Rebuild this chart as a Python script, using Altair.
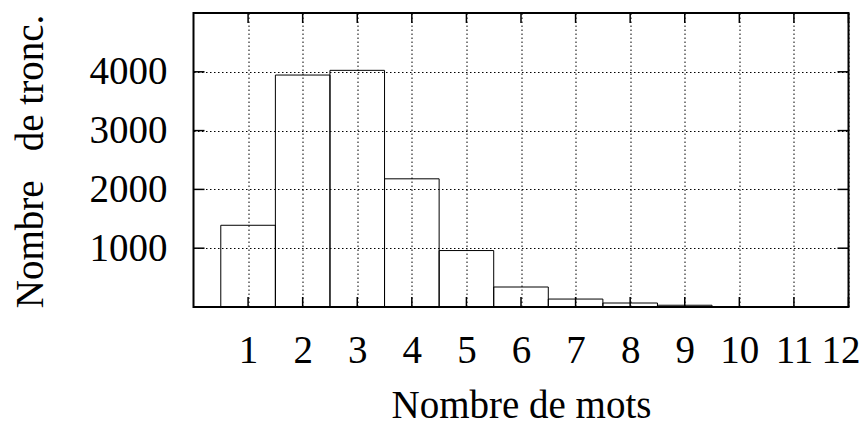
import altair as alt
import pandas as pd

# Data
mots = [1, 2, 3, 4, 5, 6, 7, 8, 9]
troncons = [1390, 3945, 4025, 2180, 960, 340, 135, 68, 30]
x_ticks = list(range(1, 13))
y_ticks = [1000, 2000, 3000, 4000]

W, H = 655, 294
FONT = "Liberation Serif"
FS = 39

bars_df = pd.DataFrame({"mots": mots, "n": troncons})
xt_df = pd.DataFrame({"mots": x_ticks})
yt_df = pd.DataFrame({"n": y_ticks})

xscale = alt.Scale(domain=[0, 12], nice=False, zero=False)
yscale = alt.Scale(domain=[0, 5000], nice=False)

common_axis = dict(
    grid=True, gridDash=[1.5, 2.5], gridColor="black", gridWidth=1, gridOpacity=1,
    ticks=False, domain=False, format="d",
    labelFont=FONT, titleFont=FONT, labelFontSize=FS, titleFontSize=FS,
    titleFontWeight="normal", labelColor="black", titleColor="black",
    labelOverlap=False, labelFlush=False,
)

xaxis = alt.Axis(
    values=x_ticks, title="Nombre de mots",
    labelPadding=55, labelBaseline="alphabetic",
    labelOffset=alt.condition("datum.value === 12", alt.value(-8), alt.value(0)),
    titleY=110, titleBaseline="alphabetic",
    **common_axis)
yaxis = alt.Axis(
    values=y_ticks, title="Nombre\u00a0\u00a0\u00a0de tronc.",
    labelPadding=26.5, labelBaseline="middle",
    titleAngle=270, titleX=-151.5, titleY=148,
    titleAlign="center", titleBaseline="alphabetic",
    **common_axis)

bars = alt.Chart(bars_df).transform_calculate(
    lo="datum.mots - 0.5", hi="datum.mots + 0.5", base="0"
).mark_rect(fill="white", fillOpacity=0, stroke="black", strokeWidth=1).encode(
    x=alt.X("lo:Q", scale=xscale, axis=xaxis),
    x2="hi:Q",
    y=alt.Y("n:Q", scale=yscale, axis=yaxis),
    y2="base:Q",
)

tick_style = dict(color="black", strokeWidth=1.5)

left = alt.Chart(yt_df).mark_rule(**tick_style).encode(
    y=alt.Y("n:Q", scale=yscale, axis=yaxis), x=alt.value(0), x2=alt.value(11))
right = alt.Chart(yt_df).mark_rule(**tick_style).encode(
    y=alt.Y("n:Q", scale=yscale, axis=yaxis), x=alt.value(W), x2=alt.value(W - 11))
bottom = alt.Chart(xt_df).mark_rule(**tick_style).encode(
    x=alt.X("mots:Q", scale=xscale, axis=xaxis), y=alt.value(H), y2=alt.value(H - 10))
top = alt.Chart(xt_df).mark_rule(**tick_style).encode(
    x=alt.X("mots:Q", scale=xscale, axis=xaxis), y=alt.value(0), y2=alt.value(10))

chart = alt.layer(bars, left, right, bottom, top).properties(
    width=W, height=H,
    autosize=alt.AutoSizeParams(type="none"),
    padding={"left": 185.5, "top": 5, "right": 10.5, "bottom": 120},
    background="white",
).configure_view(stroke="black", strokeWidth=2)

chart.save("out.html", embed_options={"renderer": "svg", "actions": False})
